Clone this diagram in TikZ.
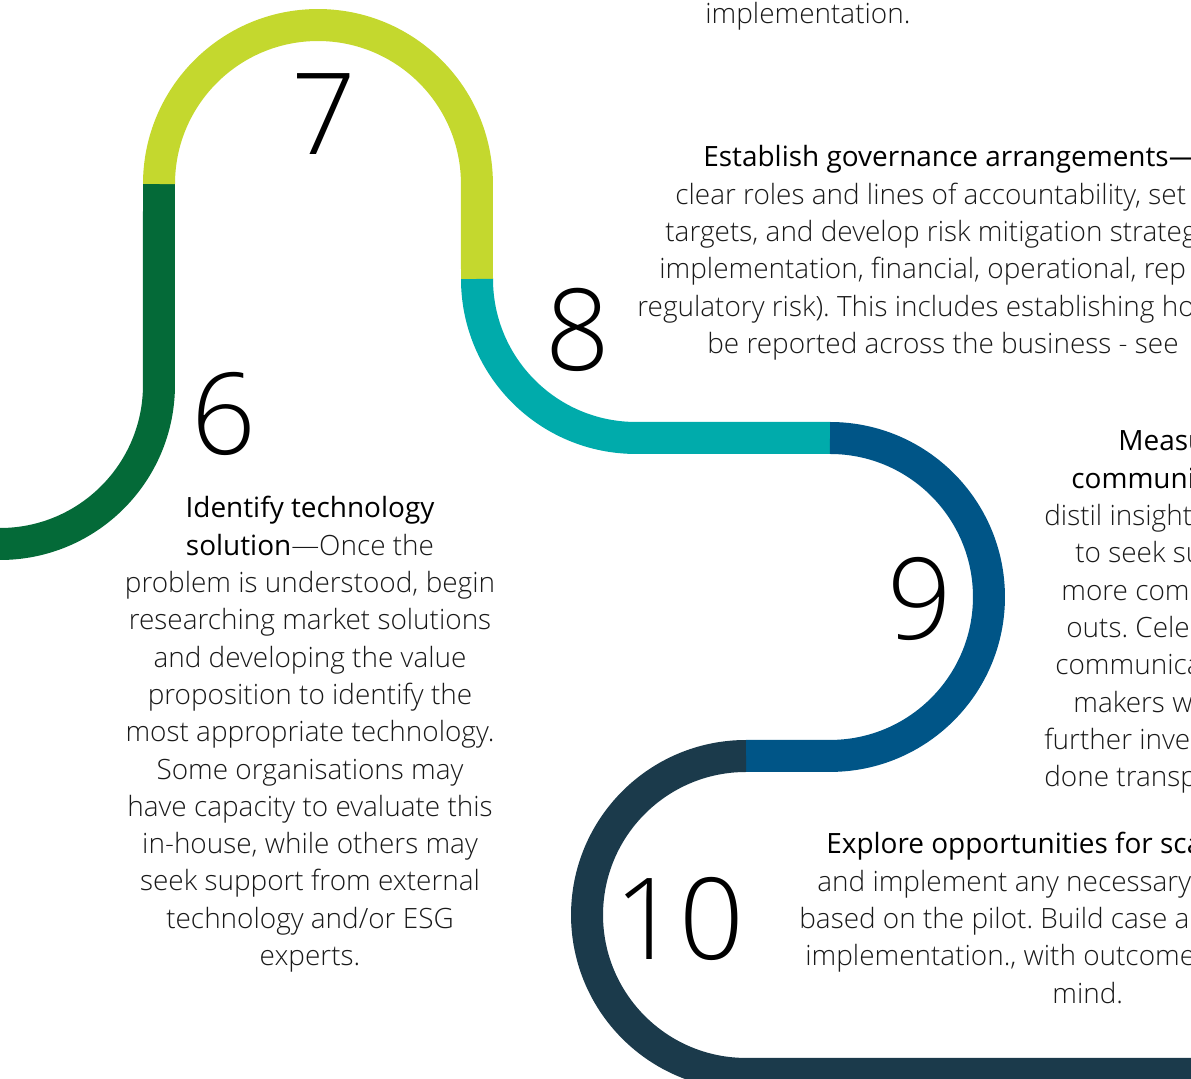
\documentclass[tikz,border=0pt]{standalone}
\usepackage{fontspec}
\setmainfont{Open Sans Light}
\newfontfamily\headfont{Open Sans}
\usepackage{xcolor}
\usetikzlibrary{positioning}
\definecolor{stepsix}{HTML}{046A38}
\definecolor{stepseven}{HTML}{C4D82E}
\definecolor{stepeight}{HTML}{00ABAB}
\definecolor{stepnine}{HTML}{005587}
\definecolor{stepten}{HTML}{1B3A4B}
\tikzset{
    road/.style={line width=0.64cm, radius=3.18cm},
    stepnum/.style={font=\fontsize{64.5}{70}\selectfont, anchor=base, inner sep=0pt},
    blurb/.style={font=\fontsize{15.9}{20}\selectfont, text=black!90, inner sep=0pt, anchor=base west}
}
\newcommand{\head}[1]{{\headfont\color{black}#1}}
\frenchspacing

\begin{document}
\begin{tikzpicture}[x=0.02cm, y=0.02cm]
    \useasboundingbox (0,0) rectangle (1191,1079);
    \clip (0,0) rectangle (1191,1079);

    \coordinate (s6) at (0,535);
    \coordinate (s7) at (159,895);
    \coordinate (s8) at (477,800);
    \coordinate (s9) at (830,641);
    \coordinate (s10) at (746,323);
    \coordinate (end) at (1200,5);

    \draw[road, stepsix] (s6) arc[start angle=-90, end angle=0] -- (s7);
    \draw[road, stepseven] (s7) arc[start angle=180, end angle=0] -- (s8);
    \draw[road, stepeight] (s8) arc[start angle=180, end angle=270] -- (s9);
    \draw[road, stepnine] (s9) arc[start angle=90, end angle=-90] -- (s10);
    \draw[road, stepten] (s10) arc[start angle=90, end angle=270] -- (end);

    \node[stepnum] (n6) at (224,624) {6};
    \node[stepnum] (n7) at (324,924) {7};
    \node[stepnum] (n8) at (578,708) {8};
    \node[stepnum] (n9) at (920,439) {9};
    \node[stepnum] (n10) at (679,119) {10};

    % step 6, centred lines
    \foreach \t [count=\i] in {{\head{Identify technology}}, {\head{solution}—Once the},
        {problem is understood, begin}, {researching market solutions},
        {and developing the value}, {proposition to identify the},
        {most appropriate technology.}, {Some organisations may},
        {have capacity to evaluate this}, {in-house, while others may},
        {seek support from external}, {technology and/or ESG}, {experts.}}
        \node[blurb, anchor=base] (six-\i) at (310,{561-37.3*(\i-1)}) {\t};

    \node[blurb] (seven-end) at (705,1055) {implementation.};

    % the other steps run off the right edge
    \foreach \x/\t [count=\i] in {703/{\head{Establish governance arrangements—}},
        675/{clear roles and lines of accountability, set},
        665/{targets, and develop risk mitigation strateg},
        659/{implementation, financial, operational, rep},
        637/{regulatory risk). This includes establishing ho},
        707/{be reported across the business - see}}
        \node[blurb] (eight-\i) at (\x,{912-37.3*(\i-1)}) {\t};

    \foreach \x/\t [count=\i] in {1118/{\head{Measu}}, 1071/{\head{communi}},
        1044/{distil insight}, 1075/{to seek su}, 1061/{more com},
        1066/{outs. Cele}, 1055/{communica}, 1073/{makers w},
        1044/{further inve}, 1044/{done transp}}
        \node[blurb] (nine-\i) at (\x,{628-37.3*(\i-1)}) {\t};

    \foreach \x/\t [count=\i] in {826/{\head{Explore opportunities for sca}},
        817/{and implement any necessary},
        799/{based on the pilot. Build case a},
        805/{implementation., with outcome}, 1052/{mind.}}
        \node[blurb] (ten-\i) at (\x,{225-37.3*(\i-1)}) {\t};
\end{tikzpicture}
\end{document}
